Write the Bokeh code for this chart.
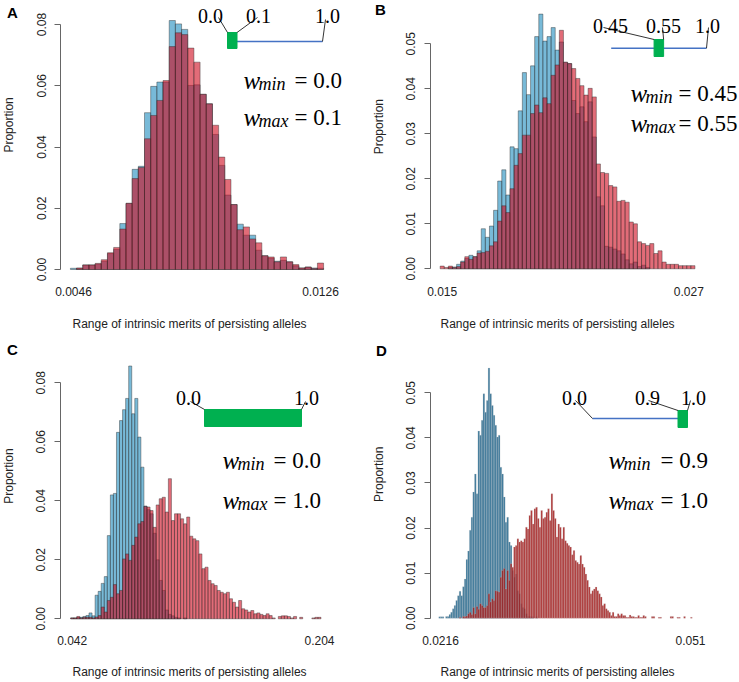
import math
import numpy as np
from bokeh.plotting import figure
from bokeh.layouts import row, column
from bokeh.models import Range1d, FixedTicker, NumeralTickFormatter, Label, ColumnDataSource
from bokeh.embed import file_html
from bokeh.resources import INLINE

# ---------------- data ----------------
# Panel A: w_min = 0.0, w_max = 0.1
A_start, A_width = 0.0045, 0.0002
A_xticks = [0.0046, 0.0126]
A_yticks = [0.00, 0.02, 0.04, 0.06, 0.08]
A_blue = [0.0004, 0.0004, 0.0015, 0.0015, 0.0018, 0.0027, 0.0052, 0.0066, 0.0150, 0.0216,
          0.0327, 0.0337, 0.0512, 0.0598, 0.0612, 0.0612, 0.0813, 0.0802, 0.0784, 0.0601,
          0.0603, 0.0572, 0.0541, 0.0441, 0.0340, 0.0243, 0.0212, 0.0148, 0.0112, 0.0112,
          0.0063, 0.0045, 0.0037, 0.0027, 0.0030, 0.0025, 0.0012, 0.0005, 0.0008, 0.0005,
          0.0004]
A_red = [0.0, 0.0005, 0.0015, 0.0015, 0.0020, 0.0032, 0.0055, 0.0072, 0.0132, 0.0216,
         0.0297, 0.0333, 0.0427, 0.0503, 0.0552, 0.0617, 0.0728, 0.0773, 0.0767, 0.0723,
         0.0677, 0.0572, 0.0541, 0.0471, 0.0367, 0.0294, 0.0212, 0.0130, 0.0139, 0.0100,
         0.0087, 0.0045, 0.0041, 0.0025, 0.0041, 0.0025, 0.0016, 0.0005, 0.0008, 0.0003,
         0.0021]
A_wmin, A_wmax = 0.0, 0.1

# Panel B: w_min = 0.45, w_max = 0.55
B_start, B_width = 0.0149, 0.0002
B_xticks = [0.015, 0.027]
B_yticks = [0.00, 0.01, 0.02, 0.03, 0.04, 0.05]
B_blue = [0.0, 0.0, 0.0003, 0.0004, 0.0010, 0.0017, 0.0023, 0.0030, 0.0027, 0.0040,
          0.0089, 0.0070, 0.0095, 0.0130, 0.0195, 0.0220, 0.0164, 0.0271, 0.0267, 0.0351,
          0.0436, 0.0387, 0.0451, 0.0516, 0.0566, 0.0506, 0.0516, 0.0536, 0.0486, 0.0504,
          0.0459, 0.0456, 0.0374, 0.0345, 0.0360, 0.0327, 0.0371, 0.0293, 0.0160, 0.0140,
          0.0050, 0.0048, 0.0044, 0.0040, 0.0033, 0.0020, 0.0011, 0.0015, 0.0005, 0.0008,
          0.0003, 0.0, 0.0, 0.0, 0.0, 0.0, 0.0, 0.0, 0.0, 0.0,
          0.0, 0.0]
B_red = [0.0006, 0.0003, 0.0006, 0.0003, 0.0005, 0.0015, 0.0027, 0.0021, 0.0027, 0.0035,
         0.0036, 0.0039, 0.0051, 0.0060, 0.0106, 0.0140, 0.0125, 0.0178, 0.0230, 0.0256,
         0.0297, 0.0297, 0.0345, 0.0364, 0.0347, 0.0380, 0.0367, 0.0430, 0.0453, 0.0530,
         0.0459, 0.0456, 0.0445, 0.0423, 0.0407, 0.0386, 0.0401, 0.0382, 0.0233, 0.0214,
         0.0212, 0.0185, 0.0182, 0.0150, 0.0152, 0.0148, 0.0104, 0.0100, 0.0060, 0.0056,
         0.0052, 0.0056, 0.0034, 0.0040, 0.0015, 0.0010, 0.0010, 0.0010, 0.0007, 0.0007,
         0.0007, 0.0007]
B_wmin, B_wmax = 0.45, 0.55

# Panel C: w_min = 0.0, w_max = 1.0
C_start, C_width = 0.041, 0.002
C_xticks = [0.042, 0.204]
C_yticks = [0.00, 0.02, 0.04, 0.06, 0.08]
C_blue = [0.0003, 0.0003, 0.0005, 0.0005, 0.0008, 0.0011, 0.0020, 0.0010, 0.0080, 0.0093,
          0.0120, 0.0143, 0.0282, 0.0420, 0.0425, 0.0632, 0.0672, 0.0709, 0.0747, 0.0857,
          0.0695, 0.0747, 0.0616, 0.0514, 0.0382, 0.0370, 0.0356, 0.0290, 0.0200, 0.0130,
          0.0096, 0.0030, 0.0015, 0.0010, 0.0005, 0.0003, 0.0, 0.0003, 0.0, 0.0,
          0.0, 0.0, 0.0, 0.0, 0.0, 0.0, 0.0, 0.0, 0.0, 0.0,
          0.0, 0.0, 0.0, 0.0, 0.0, 0.0, 0.0, 0.0, 0.0, 0.0,
          0.0, 0.0, 0.0, 0.0, 0.0, 0.0, 0.0, 0.0, 0.0, 0.0,
          0.0, 0.0, 0.0, 0.0, 0.0, 0.0, 0.0, 0.0, 0.0, 0.0,
          0.0, 0.0]
C_red = [0.0003, 0.0003, 0.0008, 0.0003, 0.0005, 0.0005, 0.0005, 0.0003, 0.0006, 0.0011,
         0.0040, 0.0023, 0.0062, 0.0073, 0.0116, 0.0085, 0.0096, 0.0203, 0.0220, 0.0198,
         0.0249, 0.0277, 0.0322, 0.0330, 0.0381, 0.0379, 0.0367, 0.0310, 0.0386, 0.0407,
         0.0412, 0.0362, 0.0475, 0.0333, 0.0356, 0.0356, 0.0339, 0.0322, 0.0345, 0.0280,
         0.0271, 0.0265, 0.0220, 0.0170, 0.0175, 0.0130, 0.0119, 0.0113, 0.0096, 0.0090,
         0.0085, 0.0090, 0.0068, 0.0056, 0.0040, 0.0062, 0.0034, 0.0030, 0.0023, 0.0028,
         0.0017, 0.0020, 0.0015, 0.0011, 0.0017, 0.0011, 0.0003, 0.0, 0.0008, 0.0010,
         0.0010, 0.0008, 0.0003, 0.0008, 0.0, 0.0005, 0.0, 0.0, 0.0, 0.0003,
         0.0005, 0.0005]
C_wmin, C_wmax = 0.0, 1.0

# Panel D: w_min = 0.9, w_max = 1.0
D_start, D_width = 0.0214, 0.0002
D_xticks = [0.0216, 0.051]
D_yticks = [0.00, 0.01, 0.02, 0.03, 0.04, 0.05]
D_blue = [0.0003, 0.0003, 0.0003, 0.0, 0.0004, 0.0004, 0.0008, 0.0013, 0.0021, 0.0028,
          0.0039, 0.0050, 0.0060, 0.0050, 0.0070, 0.0087, 0.0130, 0.0149, 0.0195, 0.0224,
          0.0280, 0.0320, 0.0276, 0.0415, 0.0406, 0.0439, 0.0498, 0.0457, 0.0483, 0.0555,
          0.0498, 0.0472, 0.0450, 0.0428, 0.0402, 0.0406, 0.0335, 0.0320, 0.0269, 0.0213,
          0.0224, 0.0169, 0.0161, 0.0106, 0.0091, 0.0098, 0.0061, 0.0054, 0.0032, 0.0024,
          0.0021, 0.0010, 0.0004, 0.0004, 0.0003, 0.0003, 0.0, 0.0003, 0.0, 0.0,
          0.0, 0.0, 0.0, 0.0, 0.0, 0.0, 0.0, 0.0, 0.0, 0.0,
          0.0, 0.0, 0.0, 0.0, 0.0, 0.0, 0.0, 0.0, 0.0, 0.0,
          0.0, 0.0, 0.0, 0.0, 0.0, 0.0, 0.0, 0.0, 0.0, 0.0,
          0.0, 0.0, 0.0, 0.0, 0.0, 0.0, 0.0, 0.0, 0.0, 0.0,
          0.0, 0.0, 0.0, 0.0, 0.0, 0.0, 0.0, 0.0, 0.0, 0.0,
          0.0, 0.0, 0.0, 0.0, 0.0, 0.0, 0.0, 0.0, 0.0, 0.0,
          0.0, 0.0, 0.0, 0.0, 0.0, 0.0, 0.0, 0.0, 0.0, 0.0,
          0.0, 0.0, 0.0, 0.0, 0.0, 0.0, 0.0, 0.0, 0.0, 0.0,
          0.0, 0.0, 0.0, 0.0, 0.0, 0.0, 0.0, 0.0, 0.0, 0.0]
D_red = [0.0, 0.0, 0.0, 0.0, 0.0, 0.0, 0.0, 0.0, 0.0, 0.0,
         0.0, 0.0, 0.0002, 0.0, 0.0004, 0.0004, 0.0005, 0.0010, 0.0013, 0.0008,
         0.0024, 0.0010, 0.0026, 0.0020, 0.0032, 0.0028, 0.0024, 0.0024, 0.0028, 0.0054,
         0.0036, 0.0043, 0.0039, 0.0061, 0.0060, 0.0058, 0.0091, 0.0106, 0.0110, 0.0065,
         0.0106, 0.0084, 0.0121, 0.0113, 0.0158, 0.0161, 0.0176, 0.0169, 0.0172, 0.0169,
         0.0176, 0.0202, 0.0198, 0.0228, 0.0239, 0.0209, 0.0243, 0.0246, 0.0221, 0.0202,
         0.0239, 0.0221, 0.0224, 0.0235, 0.0243, 0.0217, 0.0276, 0.0239, 0.0221, 0.0180,
         0.0209, 0.0202, 0.0176, 0.0202, 0.0172, 0.0166, 0.0161, 0.0158, 0.0141, 0.0150,
         0.0128, 0.0124, 0.0120, 0.0139, 0.0120, 0.0113, 0.0098, 0.0084, 0.0069, 0.0054,
         0.0061, 0.0065, 0.0069, 0.0061, 0.0054, 0.0047, 0.0028, 0.0032, 0.0021, 0.0017,
         0.0013, 0.0006, 0.0013, 0.0004, 0.0004, 0.0010, 0.0006, 0.0010, 0.0006, 0.0006,
         0.0002, 0.0002, 0.0007, 0.0004, 0.0004, 0.0002, 0.0002, 0.0006, 0.0002, 0.0002,
         0.0006, 0.0004, 0.0, 0.0, 0.0, 0.0004, 0.0004, 0.0, 0.0, 0.0002,
         0.0002, 0.0, 0.0, 0.0, 0.0, 0.0, 0.0004, 0.0004, 0.0, 0.0,
         0.0002, 0.0002, 0.0, 0.0, 0.0004, 0.0, 0.0, 0.0, 0.0002, 0.0]
D_wmin, D_wmax = 0.9, 1.0

X_TITLE = "Range of intrinsic merits of persisting alleles"
Y_TITLE = "Proportion"

SANS = "Liberation Sans"
SERIF = "Liberation Serif"
TXT = "#222222"


class Geo:
    """Maps page pixel positions to the data coordinates of one panel."""
    def __init__(self, ox, oy, w, h, fl, fr, ft, fb, xa, pa, xb, pb, ya, qa, yb, qb):
        self.ox, self.oy, self.w, self.h = ox, oy, w, h
        self.fl, self.fr, self.ft, self.fb = fl, fr, ft, fb
        self.xa, self.pa, self.xb, self.pb = xa, pa, xb, pb
        self.ya, self.qa, self.yb, self.qb = ya, qa, yb, qb

    def X(self, p):
        return self.xa + (p - self.pa) * (self.xb - self.xa) / (self.pb - self.pa)

    def Y(self, q):
        return self.ya + (q - self.qa) * (self.yb - self.ya) / (self.qb - self.qa)


STYLE_LIGHT = dict(blue="#1E8CBE", red="#CF0A1E", alpha=0.6, line="#2B2B2B", line_alpha=0.7, lw=0.6)
STYLE_DARK = dict(blue="#1A6088", red="#A01212", alpha=0.85, line="#C8C8C8", line_alpha=0.55, lw=0.45)


def blank(ox, oy, w, h):
    """An axis-less figure whose frame is its whole area, plus page->data helpers."""
    s = figure(width=w, height=h, output_backend="svg", toolbar_location=None,
               x_range=Range1d(0, w), y_range=Range1d(0, h),
               x_axis_location=None, y_axis_location=None,
               min_border=0, min_border_left=0, min_border_right=0,
               min_border_top=0, min_border_bottom=0)
    s.outline_line_color = None
    s.grid.visible = False
    s.background_fill_color = "white"
    s.border_fill_color = "white"
    return s, (lambda px: px - ox), (lambda py: oy + h - py)


def make_strip(ox, oy, w, h, letter, letter_pos, ytitle_pos):
    """Narrow strip left of a panel holding the panel letter and the y title."""
    s, fx, fy = blank(ox, oy, w, h)
    s.add_layout(Label(x=fx(letter_pos[0]), y=fy(letter_pos[1]), text=letter,
                       text_font=SANS, text_font_style="bold", text_font_size="15px",
                       text_align="center", text_baseline="middle", text_color="black"))
    s.add_layout(Label(x=fx(ytitle_pos[0]), y=fy(ytitle_pos[1]), text=Y_TITLE, angle=math.pi / 2,
                       text_font=SANS, text_font_size="12px", text_align="center",
                       text_baseline="middle", text_color=TXT))
    return s


def make_xtitles(ox, oy, w, h, lefts, center_y):
    """Full-width strip below a row of panels holding their x-axis titles."""
    s, fx, fy = blank(ox, oy, w, h)
    for left in lefts:
        s.add_layout(Label(x=fx(left), y=fy(center_y), text=X_TITLE,
                           text_font=SANS, text_font_size="12px", text_align="left",
                           text_baseline="middle", text_color=TXT))
    return s


def make_panel(g, start, width, blue, red, xticks, xfmt, yticks, style,
               wmin, wmax, scale, marks, wpos):
    p = figure(width=g.w, height=g.h, output_backend="svg", toolbar_location=None,
               x_range=Range1d(g.X(g.fl), g.X(g.fr)), y_range=Range1d(g.Y(g.fb), g.Y(g.ft)),
               min_border_left=g.fl - g.ox, min_border_right=g.ox + g.w - g.fr,
               min_border_top=g.ft - g.oy, min_border_bottom=g.oy + g.h - g.fb)
    p.outline_line_color = None
    p.grid.visible = False
    p.background_fill_color = "white"
    p.border_fill_color = "white"

    n = len(blue)
    edges = start + width * np.arange(n + 1)
    for vals, fill in ((blue, style["blue"]), (red, style["red"])):
        v = np.array(vals)
        m = v > 0
        src = ColumnDataSource(dict(left=edges[:-1][m], right=edges[1:][m], top=v[m]))
        p.quad(left="left", right="right", bottom=0, top="top", source=src,
               fill_color=fill, fill_alpha=style["alpha"],
               line_color=style["line"], line_alpha=style["line_alpha"], line_width=style["lw"])

    # y axis (R style: line only over the tick range, labels parallel to the axis)
    ya = p.yaxis[0]
    ya.ticker = FixedTicker(ticks=yticks)
    ya.formatter = NumeralTickFormatter(format="0.00")
    ya.bounds = (yticks[0], yticks[-1])
    ya.major_label_orientation = "vertical"
    ya.axis_line_color = "#666666"
    ya.major_tick_line_color = "#666666"
    ya.minor_tick_line_color = None
    ya.major_tick_out = 6
    ya.major_tick_in = 0
    ya.major_label_standoff = 9
    ya.major_label_text_font = SANS
    ya.major_label_text_font_size = "12px"
    ya.major_label_text_color = TXT

    # x axis: only the two end labels
    xa = p.xaxis[0]
    xa.ticker = FixedTicker(ticks=xticks)
    xa.formatter = NumeralTickFormatter(format=xfmt)
    xa.axis_line_color = None
    xa.major_tick_line_color = None
    xa.minor_tick_line_color = None
    xa.major_tick_out = 0
    xa.major_tick_in = 0
    xa.major_label_standoff = 15
    xa.major_label_text_font = SANS
    xa.major_label_text_font_size = "12px"
    xa.major_label_text_color = TXT

    # inset: the interval [0, 1] with the [w_min, w_max] window
    x0, x1, line_y, box_top, box_bot = scale
    xs = lambda w: x0 + w * (x1 - x0)
    p.line([g.X(x0), g.X(x1)], [g.Y(line_y), g.Y(line_y)], line_color="#4472C4", line_width=1.6)
    p.quad(left=g.X(xs(wmin)), right=g.X(xs(wmax)), top=g.Y(box_top), bottom=g.Y(box_bot),
           fill_color="#00B050", line_color="#00B050")
    for val, cx, base, sx, sy, ey in marks:
        p.add_layout(Label(x=g.X(cx), y=g.Y(base), text=str(val), text_font=SERIF,
                           text_font_size="20px", text_align="center",
                           text_baseline="alphabetic", text_color="black"))
        p.segment(x0=g.X(sx), y0=g.Y(sy), x1=g.X(xs(val)), y1=g.Y(ey),
                  line_color="black", line_width=0.8)

    # w_min / w_max texts
    wx, eq_off, base_min, base_max = wpos
    for sub, val, base in (("min", wmin, base_min), ("max", wmax, base_max)):
        p.add_layout(Label(x=g.X(wx), y=g.Y(base), text="w", text_font=SERIF,
                           text_font_style="italic", text_font_size="25px",
                           text_baseline="alphabetic", text_color="black"))
        p.add_layout(Label(x=g.X(wx + 15), y=g.Y(base + 3), text=sub, text_font=SERIF,
                           text_font_style="italic", text_font_size="18px",
                           text_baseline="alphabetic", text_color="black"))
        p.add_layout(Label(x=g.X(wx + eq_off), y=g.Y(base), text="= " + str(val), text_font=SERIF,
                           text_font_size="23px", text_baseline="alphabetic", text_color="black"))
    return p


# page geometry (page origin = top-left of the window)
TOP_H, TT_H, BOT_H, BT_H = 305, 27, 323, 26
Y1 = TOP_H + TT_H            # top of bottom row
Y2 = Y1 + BOT_H              # top of bottom title strip
FULL_W = 738

gA = Geo(30, 0, 339, TOP_H, 60, 369, 0, 271, A_xticks[0], 73, A_xticks[1], 320, 0.0, 269, 0.08, 24)
gB = Geo(399, 0, 339, TOP_H, 430, 738, 0, 271, B_xticks[0], 441.7, B_xticks[1], 688.3, 0.0, 268.3, 0.05, 43.3)
gC = Geo(30, Y1, 339, BOT_H, 60, 369, Y1, 620, C_xticks[0], 71.7, C_xticks[1], 319, 0.0, 618.3, 0.08, 382.3)
gD = Geo(399, Y1, 339, BOT_H, 430, 738, Y1, 620, D_xticks[0], 440, D_xticks[1], 690, 0.0, 617.7, 0.05, 392.3)

sA = make_strip(0, 0, 30, TOP_H, "A", (12, 13), (8, 140))
sB = make_strip(369, 0, 30, TOP_H, "B", (380, 10), (378, 142))
sC = make_strip(0, Y1, 30, BOT_H, "C", (12, 351), (8, 493))
sD = make_strip(369, Y1, 30, BOT_H, "D", (381, 352), (378, 491))

tTop = make_xtitles(0, TOP_H, FULL_W, TT_H, (72, 440), 323)
tBot = make_xtitles(0, Y2, FULL_W, BT_H, (72, 440), 671)

pA = make_panel(gA, A_start, A_width, A_blue, A_red, A_xticks, "0.0000", A_yticks, STYLE_LIGHT,
                A_wmin, A_wmax, (227, 322, 41, 32, 48),
                [(0.0, 210, 15, 218, 17, 32), (0.1, 258, 15, 257, 17, 32), (1.0, 327, 15, 325, 19, 41)],
                (243, 51, 80, 117))
pB = make_panel(gB, B_start, B_width, B_blue, B_red, B_xticks, "0.000", B_yticks, STYLE_LIGHT,
                B_wmin, B_wmax, (610.7, 706, 47.7, 39, 56),
                [(0.45, 610, 25, 603, 27, 39), (0.55, 663, 25, 662, 27, 39), (1.0, 707, 25, 708, 27, 47.7)],
                (630, 48, 93, 123))
pC = make_panel(gC, C_start, C_width, C_blue, C_red, C_xticks, "0.000", C_yticks, STYLE_LIGHT,
                C_wmin, C_wmax, (204, 301, 418, 409, 426),
                [(0.0, 188, 397, 190, 401, 409), (1.0, 306, 397, 305, 401, 409)],
                (222, 51, 460, 500))
pD = make_panel(gD, D_start, D_width, D_blue, D_red, D_xticks, "0.0[000]", D_yticks, STYLE_DARK,
                D_wmin, D_wmax, (592, 687, 418, 410, 427),
                [(0.0, 574, 397, 575, 400, 418), (0.9, 647, 397, 648, 400, 410), (1.0, 693, 397, 690, 400, 410)],
                (608, 52, 460, 500))

layout = column(row(sA, pA, sB, pB), tTop, row(sC, pC, sD, pD), tBot)

with open("out.html", "w") as f:
    f.write(file_html(layout, INLINE, "Intrinsic merits histograms"))
